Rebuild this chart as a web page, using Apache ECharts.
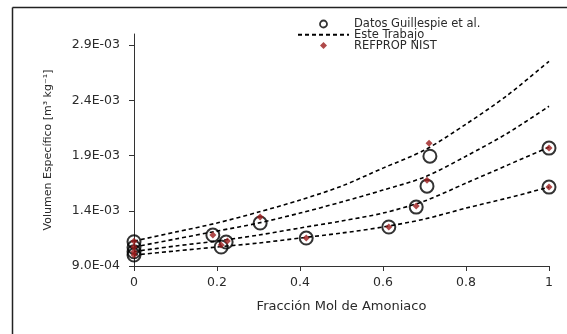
<!DOCTYPE html>
<html>
<head>
<meta charset="utf-8">
<script src="https://cdn.jsdelivr.net/npm/echarts@6/dist/echarts.min.js"></script>
<style>
html,body{margin:0;padding:0;background:#fff;}
#c{width:567px;height:334px;}
</style>
</head>
<body>
<div id="c"></div>
<script>
// Model curves ("Este Trabajo"), sampled at these mole fractions
const xModel = [0, 0.1, 0.2, 0.3, 0.4, 0.5, 0.6, 0.7, 0.8, 0.9, 1.0];
const curve1 = [1.126e-3, 1.207e-3, 1.289e-3, 1.388e-3, 1.497e-3, 1.623e-3, 1.786e-3, 1.949e-3, 2.184e-3, 2.446e-3, 2.753e-3];
const curve2 = [1.072e-3, 1.144e-3, 1.216e-3, 1.289e-3, 1.379e-3, 1.479e-3, 1.587e-3, 1.705e-3, 1.894e-3, 2.102e-3, 2.346e-3];
const curve3 = [1.031e-3, 1.081e-3, 1.126e-3, 1.180e-3, 1.244e-3, 1.307e-3, 1.379e-3, 1.488e-3, 1.650e-3, 1.813e-3, 1.976e-3];
const curve4 = [0.999e-3, 1.036e-3, 1.072e-3, 1.108e-3, 1.153e-3, 1.198e-3, 1.253e-3, 1.325e-3, 1.424e-3, 1.515e-3, 1.614e-3];

// Datos Guillespie et al.
const gX = [0, 0, 0, 0, 0.19, 0.222, 0.21, 0.304, 0.415, 0.614, 0.68, 0.706, 0.713, 1.0, 1.0];
const gY = [1.120e-3, 1.069e-3, 1.029e-3, 0.999e-3, 1.180e-3, 1.117e-3, 1.072e-3, 1.289e-3, 1.153e-3, 1.253e-3, 1.433e-3, 1.623e-3, 1.894e-3, 1.967e-3, 1.614e-3];

// REFPROP NIST
const nX = [0, 0, 0, 0, 0.19, 0.225, 0.21, 0.304, 0.415, 0.614, 0.68, 0.706, 0.711, 1.0, 1.0];
const nY = [1.125e-3, 1.072e-3, 1.030e-3, 1.000e-3, 1.180e-3, 1.126e-3, 1.090e-3, 1.343e-3, 1.153e-3, 1.253e-3, 1.442e-3, 1.677e-3, 2.012e-3, 1.967e-3, 1.614e-3];

const names = ['Datos Guillespie et al.', 'Este Trabajo', 'REFPROP NIST'];

function pairs(xs, ys){ return xs.map((x,i)=>[x, ys[i]]); }
function fmtE(v){
  const e = Math.floor(Math.log10(v) + 1e-9);
  const m = v / Math.pow(10, e);
  const s = e < 0 ? '-' : '+';
  return m.toFixed(1) + 'E' + s + String(Math.abs(e)).padStart(2, '0');
}

const FONT = 'DejaVu Sans';
const TXT = '#2a2a2a';

const lineSeries = [curve1, curve2, curve3, curve4].map(c => ({
  name: names[1], type: 'line', data: pairs(xModel, c),
  smooth: 0.3, symbol: 'none', showSymbol: false,
  itemStyle: {color: '#000'},
  lineStyle: {color: '#000', width: 1.6, type: [4, 3]},
  z: 2
}));

const chart = echarts.init(document.getElementById('c'), null, {renderer: 'canvas'});
chart.setOption({
  animation: false,
  textStyle: {fontFamily: FONT},
  grid: {left: 134, right: 18, top: 34, bottom: 68, containLabel: false},
  graphic: [
    {type: 'line', shape: {x1: 12.5, y1: 7.5, x2: 567, y2: 7.5}, style: {stroke: '#222', lineWidth: 1.5}, silent: true},
    {type: 'line', shape: {x1: 12.5, y1: 7.5, x2: 12.5, y2: 334}, style: {stroke: '#222', lineWidth: 1.5}, silent: true}
  ],
  legend: {
    data: [
      {name: names[0], itemStyle: {borderWidth: 1.8, borderColor: '#000', color: 'rgba(255,255,255,0)'}},
      {name: names[1], itemStyle: {opacity: 0}},
      {name: names[2], icon: 'path://M5,0L10,5L5,10L0,5Z'}
    ],
    orient: 'vertical', left: 297, top: 18, padding: 0,
    itemWidth: 51, itemHeight: 7, itemGap: -1.2,
    symbolKeepAspect: true,
    textStyle: {fontFamily: FONT, fontSize: 11.5, lineHeight: 10.5, color: TXT},
    selectedMode: false
  },
  xAxis: {
    type: 'value', min: 0, max: 1, interval: 0.2,
    name: 'Fracción Mol de Amoniaco', nameLocation: 'middle', nameGap: 34,
    nameTextStyle: {fontFamily: FONT, fontSize: 13, color: TXT},
    axisLine: {show: true, onZero: false, lineStyle: {color: '#333', width: 1}},
    axisTick: {show: true, length: 5, lineStyle: {color: '#333'}},
    axisLabel: {fontFamily: FONT, fontSize: 12.5, color: TXT, margin: 10},
    splitLine: {show: false}
  },
  yAxis: {
    type: 'value', min: 0.0009, max: 0.003, interval: 0.0005,
    name: 'Volumen Específico [m³ kg⁻¹]', nameLocation: 'middle', nameGap: 80,
    nameTextStyle: {fontFamily: FONT, fontSize: 11, color: TXT},
    axisLine: {show: true, onZero: false, lineStyle: {color: '#333', width: 1}},
    axisTick: {show: true, length: 5, lineStyle: {color: '#333'}},
    axisLabel: {fontFamily: FONT, fontSize: 12.5, color: TXT, margin: 14, showMaxLabel: false,
      formatter: v => fmtE(v)},
    splitLine: {show: false}
  },
  series: lineSeries.concat([
    {
      name: names[0], type: 'scatter', data: pairs(gX, gY),
      symbol: 'circle', symbolSize: 13,
      itemStyle: {color: 'rgba(255,255,255,0)', borderColor: '#000', borderWidth: 2},
      z: 3
    },
    {
      name: names[2], type: 'scatter', data: pairs(nX, nY),
      symbol: 'diamond', symbolSize: 7,
      itemStyle: {color: '#9b1b1b'},
      z: 4
    }
  ])
});
</script>
</body>
</html>
